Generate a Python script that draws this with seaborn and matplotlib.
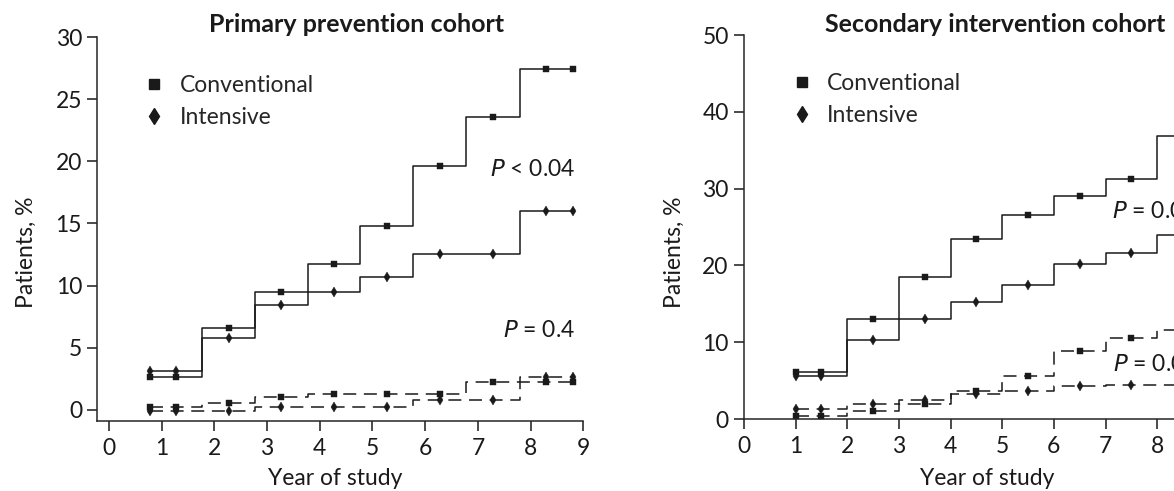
import pandas as pd
import matplotlib
matplotlib.use("Agg")
import matplotlib.pyplot as plt
from matplotlib.lines import Line2D
import seaborn as sns

# Primary prevention cohort (marker positions, % of patients)
primary_years = [0.77, 1.27, 2.27, 3.27, 4.27, 5.27, 6.28, 7.28, 8.3, 8.81]
primary_conv_solid = [2.6, 2.6, 6.6, 9.5, 11.7, 14.8, 19.6, 23.6, 27.4, 27.4]
primary_int_solid = [3.15, 3.15, 5.8, 8.4, 9.5, 10.7, 12.5, 12.5, 16.0, 16.0]
primary_conv_dash = [0.2, 0.2, 0.55, 1.0, 1.3, 1.3, 1.3, 2.25, 2.25, 2.25]
primary_int_dash = [-0.1, -0.1, -0.1, 0.25, 0.25, 0.25, 0.8, 0.8, 2.65, 2.65]

# Secondary intervention cohort
secondary_years = [1.0, 1.5, 2.5, 3.5, 4.5, 5.5, 6.5, 7.5, 8.5, 9.0]
secondary_conv_solid = [6.1, 6.1, 13.0, 18.5, 23.5, 26.6, 29.1, 31.3, 36.8, 36.8]
secondary_int_solid = [5.6, 5.6, 10.3, 13.0, 15.3, 17.5, 20.2, 21.6, 23.9, 23.9]
secondary_conv_dash = [0.4, 0.4, 1.0, 2.0, 3.6, 5.6, 8.8, 10.6, 11.6, 11.6]
secondary_int_dash = [1.3, 1.3, 1.95, 2.5, 3.3, 3.65, 4.35, 4.4, 4.4, 4.4]

primary_xticks = [0, 1, 2, 3, 4, 5, 6, 7, 8, 9]
secondary_xticks = [0, 1, 2, 3, 4, 5, 6, 7, 8]  # 9 falls outside the cropped picture
primary_yticks = [0, 5, 10, 15, 20, 25, 30]
secondary_yticks = [0, 10, 20, 30, 40, 50]

sns.set_style("ticks")
plt.rcParams["font.family"] = ["Lato", "DejaVu Sans"]
plt.rcParams["axes.linewidth"] = 1.1
plt.rcParams["xtick.major.width"] = 1.1
plt.rcParams["ytick.major.width"] = 1.1

ink = "#1a1a1a"
dash = (0, (8.5, 5))
fs = 16.5

fig = plt.figure(figsize=(11.74, 4.91), dpi=100)
ax1 = fig.add_axes([0.0829, 0.1426, 0.414, 0.782])
ax2 = fig.add_axes([0.6337, 0.1466, 0.396, 0.782])


def draw(ax, years, series):
    for vals, marker, ls in series:
        df = pd.DataFrame({"year": years, "pct": vals})
        sns.lineplot(data=df, x="year", y="pct", ax=ax, color=ink, lw=1.1,
                     linestyle=ls, drawstyle="steps-mid", marker=marker,
                     markersize=5, markeredgecolor=ink, markerfacecolor=ink,
                     markeredgewidth=0.3, sort=False, estimator=None)


draw(ax1, primary_years, [
    (primary_conv_solid, "s", "-"),
    (primary_int_solid, "d", "-"),
    (primary_conv_dash, "s", dash),
    (primary_int_dash, "d", dash),
])
draw(ax2, secondary_years, [
    (secondary_conv_solid, "s", "-"),
    (secondary_int_solid, "d", "-"),
    (secondary_conv_dash, "s", dash),
    (secondary_int_dash, "d", dash),
])

ax1.set_xlim(-0.22, 9)
ax1.set_ylim(-0.9, 30)
ax1.set_xticks(primary_xticks)
ax1.set_yticks(primary_yticks)
ax2.set_xlim(0, 9)
ax2.set_ylim(0, 50)
ax2.set_xticks(secondary_xticks)
ax2.set_yticks(secondary_yticks)

handles = [
    Line2D([], [], ls="none", marker="s", ms=7, color=ink),
    Line2D([], [], ls="none", marker="d", ms=8, color=ink),
]

for ax in (ax1, ax2):
    ax.spines["top"].set_visible(False)
    ax.spines["right"].set_visible(False)
    ax.tick_params(axis="both", length=7, labelsize=fs, colors=ink)
    ax.tick_params(axis="x", pad=5)
    ax.tick_params(axis="y", pad=4)
    ax.set_xlabel("Year of study", fontsize=fs, color=ink)
    ax.set_ylabel("Patients, %", fontsize=fs, color=ink)

ax1.xaxis.set_label_coords(0.489, -0.122)
ax1.yaxis.set_label_coords(-0.124, 0.44)
ax2.xaxis.set_label_coords(0.523, -0.127)
ax2.yaxis.set_label_coords(-0.127, 0.435)

leg_kw = dict(loc="upper left", frameon=False, fontsize=fs, handlelength=1.0,
              handletextpad=0.6, labelspacing=0.45, borderpad=0, borderaxespad=0)
ax1.legend(handles, ["Conventional", "Intensive"], bbox_to_anchor=(0.094, 0.90), **leg_kw)
ax2.legend(handles, ["Conventional", "Intensive"], bbox_to_anchor=(0.10, 0.90), **leg_kw)

ax1.text(0.23, 1.013, "Primary prevention cohort", transform=ax1.transAxes,
         fontsize=18, fontweight="bold", ha="left", va="baseline", color=ink)
ax2.text(0.174, 1.008, "Secondary intervention cohort", transform=ax2.transAxes,
         fontsize=18, fontweight="bold", ha="left", va="baseline", color=ink)

ax1.text(8.84, 19.35, "$P$ < 0.04", fontsize=fs, ha="right", va="center", color=ink)
ax1.text(8.84, 6.37, "$P$ = 0.4", fontsize=fs, ha="right", va="center", color=ink)
ax2.text(7.12, 27.0, "$P$ = 0.03", fontsize=fs, ha="left", va="center", color=ink)
ax2.text(7.15, 7.04, "$P$ = 0.04", fontsize=fs, ha="left", va="center", color=ink)

fig.savefig("out.png", dpi=100)
